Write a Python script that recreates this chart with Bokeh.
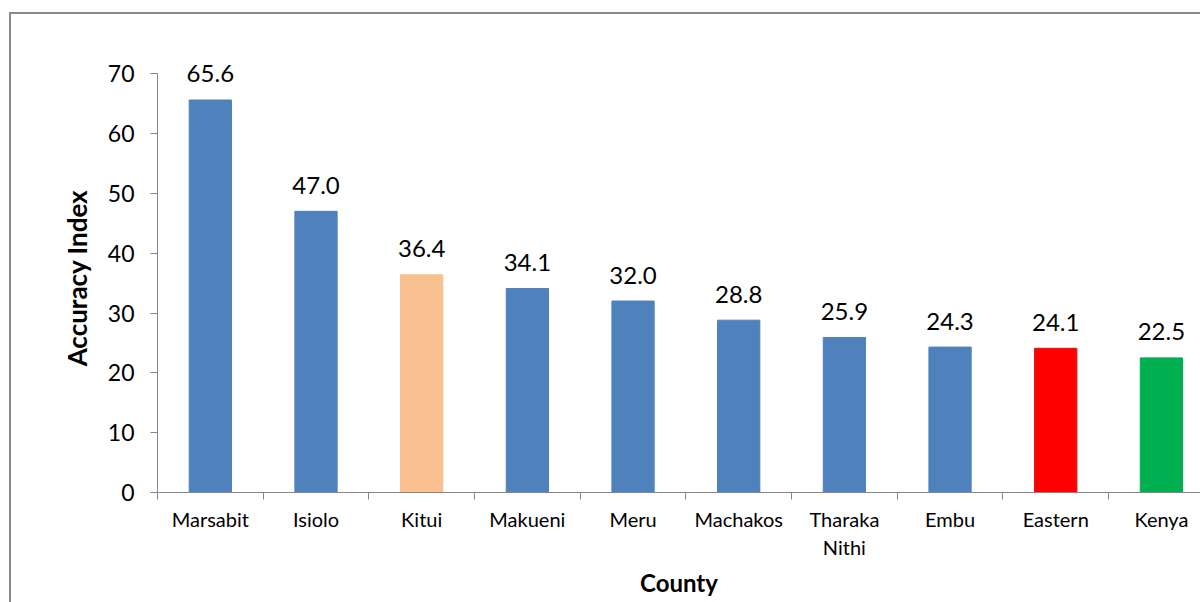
from bokeh.plotting import figure
from bokeh.models import ColumnDataSource, Range1d, FixedTicker, InlineStyleSheet
from bokeh.core.properties import value
from bokeh.embed import file_html
from bokeh.resources import INLINE

counties = ["Marsabit", "Isiolo", "Kitui", "Makueni", "Meru", "Machakos",
            "Tharaka\nNithi", "Embu", "Eastern", "Kenya"]
accuracy = [65.6, 47.0, 36.4, 34.1, 32.0, 28.8, 25.9, 24.3, 24.1, 22.5]
colors = ["#4F81BD", "#4F81BD", "#FAC090", "#4F81BD", "#4F81BD", "#4F81BD",
          "#4F81BD", "#4F81BD", "#FF0000", "#00B050"]
y_ticks = [0, 10, 20, 30, 40, 50, 60, 70]

FONT = "Lato"
AXIS_GRAY = "#868686"

centers = [i + 0.5 for i in range(len(counties))]
boundaries = list(range(len(counties) + 1))

src = ColumnDataSource(dict(
    x=centers,
    y=accuracy,
    color=colors,
    label=[f"{v:.1f}" for v in accuracy],
))

p = figure(width=1200, height=602, output_backend="svg", toolbar_location=None,
           x_range=Range1d(0, 9.87), y_range=Range1d(0, 71.7),
           min_border_left=157, min_border_right=0, min_border_top=63,
           min_border_bottom=110)

p.vbar(x="x", top="y", width=0.40, bottom=0, color="color", source=src)
p.text(x="x", y="y", text="label", source=src, y_offset=-26,
       text_align="center", text_baseline="alphabetic",
       text_font=value(FONT), text_font_size="24px", text_color="#000000")

p.xgrid.visible = False
p.ygrid.visible = False
p.outline_line_color = None
p.background_fill_color = "white"
p.border_fill_color = "white"

# y axis
ya = p.yaxis[0]
ya.ticker = FixedTicker(ticks=y_ticks)
ya.bounds = (0, 70)
ya.axis_line_color = AXIS_GRAY
ya.major_tick_line_color = AXIS_GRAY
ya.major_tick_out = 7
ya.major_tick_in = 0
ya.minor_tick_line_color = None
ya.major_label_text_font = FONT
ya.major_label_text_font_size = "23px"
ya.major_label_text_color = "#000000"
ya.major_label_standoff = 16
ya.axis_label = "Accuracy Index"
ya.axis_label_text_font = FONT
ya.axis_label_text_font_style = "bold"
ya.axis_label_text_font_size = "26px"
ya.axis_label_text_color = "#000000"
ya.axis_label_standoff = 12

# x axis
xa = p.xaxis[0]
xa.ticker = FixedTicker(ticks=centers, minor_ticks=boundaries)
xa.major_label_overrides = {c: n for c, n in zip(centers, counties)}
xa.axis_line_color = AXIS_GRAY
xa.major_tick_line_color = None
xa.minor_tick_line_color = AXIS_GRAY
xa.minor_tick_out = 7
xa.minor_tick_in = 0
xa.major_label_text_font = FONT
xa.major_label_text_font_size = "20px"
xa.major_label_text_color = "#000000"
xa.major_label_standoff = 7
xa.axis_label = "County"
xa.axis_label_text_font = FONT
xa.axis_label_text_font_style = "bold"
xa.axis_label_text_font_size = "24px"
xa.axis_label_text_color = "#000000"
xa.axis_label_standoff = 6

# outer chart border (left and top edges visible; the rest lies off-page)
p.stylesheets = [InlineStyleSheet(css="""
:host::after {
  content: "";
  position: absolute;
  left: 9px; top: 12px; right: 0px; bottom: 0px;
  border-left: 2px solid #8a8a8a;
  border-top: 2px solid #8a8a8a;
  pointer-events: none;
}
""")]

open("out.html", "w").write(file_html(p, INLINE))
